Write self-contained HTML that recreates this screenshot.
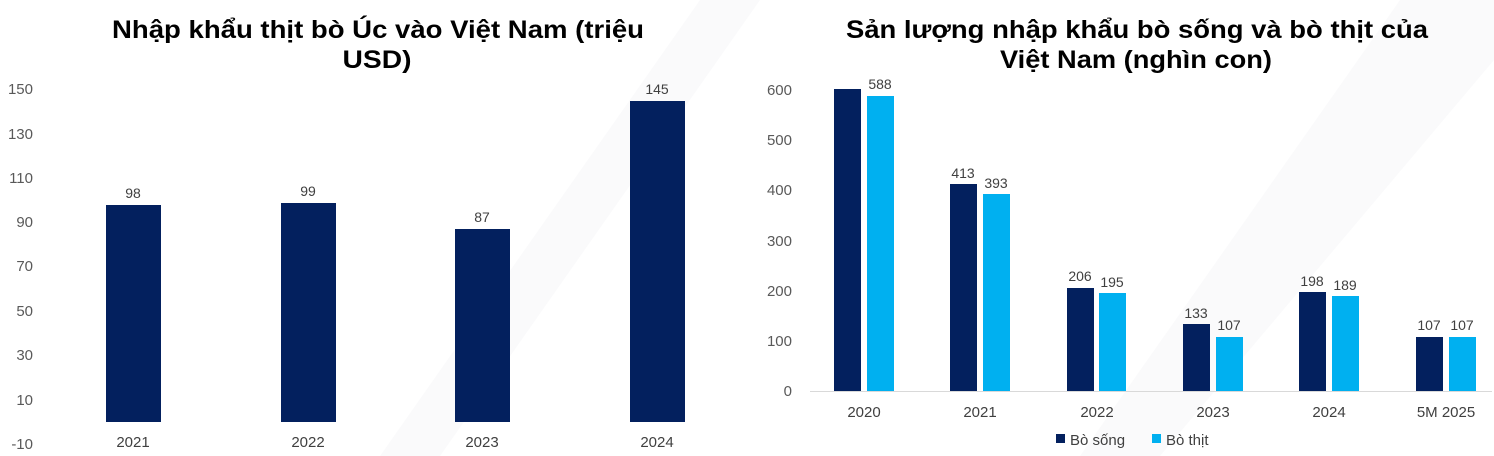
<!DOCTYPE html>
<html><head><meta charset="utf-8"><style>
html,body{margin:0;padding:0;background:#fff;}
svg{display:block;font-family:"Liberation Sans",sans-serif;}
</style></head><body>
<svg width="1494" height="456" viewBox="0 0 1494 456">
<rect width="1494" height="456" fill="#fff"/>
<polygon points="380,456 700,0 760,0 440,456" fill="#fafafb"/>
<polygon points="1080,456 1400,0 1494,0 1494,60 1160,456" fill="#fafafb"/>
<g font-weight="bold" font-size="25" fill="#000" text-anchor="middle">
<text x="378" y="38" textLength="532" lengthAdjust="spacingAndGlyphs">Nhập khẩu thịt bò Úc vào Việt Nam (triệu</text>
<text x="377" y="68" textLength="69" lengthAdjust="spacingAndGlyphs">USD)</text>
<text x="1137" y="38" textLength="582" lengthAdjust="spacingAndGlyphs">Sản lượng nhập khẩu bò sống và bò thịt của</text>
<text x="1136" y="68" textLength="272" lengthAdjust="spacingAndGlyphs">Việt Nam (nghìn con)</text>
</g>
<g font-size="15" fill="#595959" text-anchor="end">
<text x="33" y="94">150</text><text x="33" y="139">130</text><text x="33" y="183">110</text>
<text x="33" y="227">90</text><text x="33" y="271">70</text><text x="33" y="316">50</text>
<text x="33" y="360">30</text><text x="33" y="405">10</text><text x="33" y="449">-10</text>
<text x="792" y="95">600</text><text x="792" y="145">500</text><text x="792" y="195">400</text>
<text x="792" y="246">300</text><text x="792" y="296">200</text><text x="792" y="346">100</text>
<text x="792" y="396">0</text>
</g>
<g fill="#03205e">
<rect x="106" y="205" width="55" height="217"/>
<rect x="281" y="203" width="55" height="219"/>
<rect x="455" y="229" width="55" height="193"/>
<rect x="630" y="101" width="55" height="321"/>
</g>
<g font-size="14" fill="#404040" text-anchor="middle">
<text x="133" y="198">98</text><text x="308" y="196">99</text><text x="482" y="222">87</text><text x="657" y="94">145</text>
</g>
<g font-size="15" fill="#404040" text-anchor="middle">
<text x="133" y="447">2021</text><text x="308" y="447">2022</text><text x="482" y="447">2023</text><text x="657" y="447">2024</text>
</g>
<line x1="810" y1="391.5" x2="1492" y2="391.5" stroke="#d9d9d9"/>
<g fill="#03205e">
<rect x="834" y="89" width="27" height="302"/>
<rect x="950" y="184" width="27" height="207"/>
<rect x="1067" y="288" width="27" height="103"/>
<rect x="1183" y="324" width="27" height="67"/>
<rect x="1299" y="292" width="27" height="99"/>
<rect x="1416" y="337" width="27" height="54"/>
</g>
<g fill="#00b0f0">
<rect x="867" y="96" width="27" height="295"/>
<rect x="983" y="194" width="27" height="197"/>
<rect x="1099" y="293" width="27" height="98"/>
<rect x="1216" y="337" width="27" height="54"/>
<rect x="1332" y="296" width="27" height="95"/>
<rect x="1449" y="337" width="27" height="54"/>
</g>
<g font-size="14" fill="#404040" text-anchor="middle">
<text x="880" y="89">588</text>
<text x="963" y="178">413</text><text x="996" y="188">393</text>
<text x="1080" y="281">206</text><text x="1112" y="287">195</text>
<text x="1196" y="318">133</text><text x="1229" y="330">107</text>
<text x="1312" y="286">198</text><text x="1345" y="290">189</text>
<text x="1429" y="330">107</text><text x="1462" y="330">107</text>
</g>
<g font-size="15" fill="#404040" text-anchor="middle">
<text x="864" y="417">2020</text><text x="980" y="417">2021</text><text x="1097" y="417">2022</text>
<text x="1213" y="417">2023</text><text x="1329" y="417">2024</text><text x="1446" y="417">5M 2025</text>
</g>
<rect x="1056" y="434" width="9" height="9" fill="#03205e"/>
<text x="1070" y="445" font-size="15" fill="#404040">Bò sống</text>
<rect x="1152" y="434" width="9" height="9" fill="#00b0f0"/>
<text x="1166" y="445" font-size="15" fill="#404040">Bò thịt</text>
</svg>
</body></html>
